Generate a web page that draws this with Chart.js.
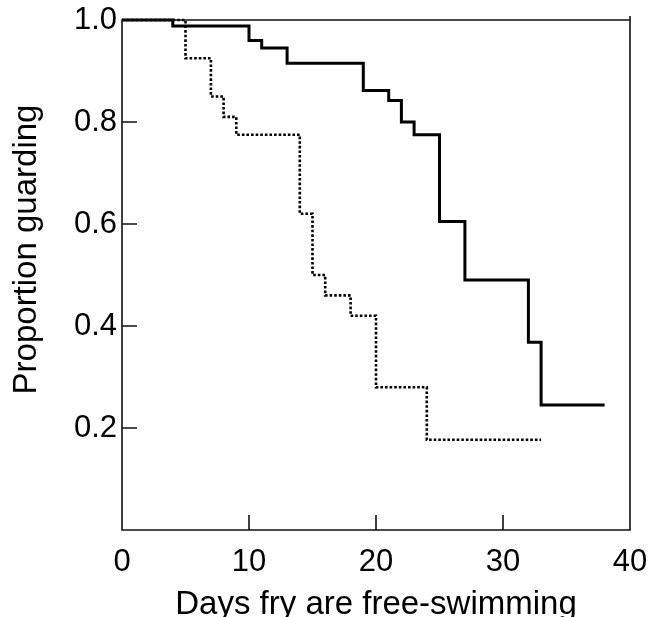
<!DOCTYPE html>
<html>
<head>
<meta charset="utf-8">
<script src="https://cdn.jsdelivr.net/npm/chart.js@4"></script>
<style>
  html, body { margin: 0; padding: 0; background: #fff; }
  #wrap { width: 654px; height: 617px; }
</style>
</head>
<body>
<div id="wrap"><canvas id="c" width="654" height="617"></canvas></div>
<script>
// Data
const solidDays  = [0, 4, 10, 11, 13, 19, 21, 22, 23, 25, 27, 32, 33, 38];
const solidProp  = [1.0, 0.988, 0.96, 0.945, 0.915, 0.862, 0.842, 0.80, 0.775, 0.605, 0.49, 0.368, 0.245, 0.245];
const dottedDays = [0, 5, 7, 8, 9, 14, 15, 16, 18, 20, 24, 33];
const dottedProp = [1.0, 0.925, 0.85, 0.81, 0.775, 0.62, 0.50, 0.46, 0.42, 0.28, 0.177, 0.177];
const xTickValues = [0, 10, 20, 30, 40];
const yTickValues = [0.2, 0.4, 0.6, 0.8, 1.0];
const xTitle = 'Days fry are free-swimming';
const yTitle = 'Proportion guarding';

const toPts = (xs, ys) => xs.map((x, i) => ({x: x, y: ys[i]}));
const FONT = '"Liberation Sans", Arial, Helvetica, sans-serif';

const frameAndTicks = {
  id: 'frameAndTicks',
  afterDatasetsDraw(chart) {
    const {ctx, chartArea: a, scales} = chart;
    ctx.save();
    ctx.strokeStyle = '#111';
    ctx.lineWidth = 1.6;
    ctx.beginPath();
    ctx.rect(a.left, a.top, a.right - a.left, a.bottom - a.top);
    ctx.stroke();
    ctx.beginPath();
    ctx.moveTo(a.right, a.top - 4);
    ctx.lineTo(a.right, a.top);
    ctx.stroke();
    const L = 15;
    ctx.beginPath();
    xTickValues.forEach(v => {
      if (v === scales.x.min || v === scales.x.max) return;
      const px = scales.x.getPixelForValue(v);
      ctx.moveTo(px, a.bottom);
      ctx.lineTo(px, a.bottom - L);
    });
    yTickValues.forEach(v => {
      if (v === scales.y.min || v === scales.y.max) return;
      const py = scales.y.getPixelForValue(v);
      ctx.moveTo(a.left, py);
      ctx.lineTo(a.left + L, py);
    });
    ctx.stroke();
    ctx.restore();
  }
};

// y-axis title, placed like the reference (a little above the axis centre)
const yTitlePlugin = {
  id: 'yTitlePlugin',
  afterDraw(chart) {
    const {ctx, scales} = chart;
    const cy = scales.y.getPixelForValue(0.55);
    ctx.save();
    ctx.translate(36, cy);
    ctx.rotate(-Math.PI / 2);
    ctx.font = '33px ' + FONT;
    ctx.fillStyle = '#000';
    ctx.textAlign = 'center';
    ctx.textBaseline = 'alphabetic';
    ctx.fillText(yTitle, 0, 0);
    ctx.restore();
  }
};

new Chart(document.getElementById('c'), {
  type: 'line',
  data: {
    datasets: [
      {
        label: 'solid',
        data: toPts(solidDays, solidProp),
        stepped: 'before',
        borderColor: '#000',
        borderWidth: 3,
        pointRadius: 0,
        fill: false,
        clip: false
      },
      {
        label: 'dotted',
        data: toPts(dottedDays, dottedProp),
        stepped: 'before',
        borderColor: '#000',
        borderWidth: 2.6,
        borderDash: [2.6, 2],
        pointRadius: 0,
        fill: false,
        clip: false
      }
    ]
  },
  options: {
    responsive: false,
    animation: false,
    events: [],
    layout: { padding: { top: 20, right: 0, left: 0, bottom: 0 } },
    plugins: { legend: { display: false }, tooltip: { enabled: false } },
    scales: {
      x: {
        type: 'linear',
        min: 0, max: 40,
        afterBuildTicks: s => { s.ticks = xTickValues.map(v => ({value: v})); },
        afterFit: s => { s.height = 87; s.paddingLeft = 0; s.paddingRight = 24; },
        grid: { display: false, drawTicks: false },
        border: { display: false },
        ticks: { color: '#000', padding: 14, font: { family: FONT, size: 31 }, maxRotation: 0, autoSkip: false },
        title: { display: true, text: xTitle, color: '#000', font: { family: FONT, size: 33, lineHeight: 0.75 }, padding: { top: 0, bottom: 0 } }
      },
      y: {
        type: 'linear',
        min: 0, max: 1.0,
        afterBuildTicks: s => { s.ticks = yTickValues.map(v => ({value: v})); },
        afterFit: s => { s.width = 122; s.paddingTop = 0; s.paddingBottom = 0; },
        grid: { display: false, drawTicks: false },
        border: { display: false },
        ticks: { color: '#000', padding: 5, font: { family: FONT, size: 31 }, callback: v => v.toFixed(1), autoSkip: false },
        title: { display: false, text: yTitle }
      }
    }
  },
  plugins: [frameAndTicks, yTitlePlugin]
});
</script>
</body>
</html>
